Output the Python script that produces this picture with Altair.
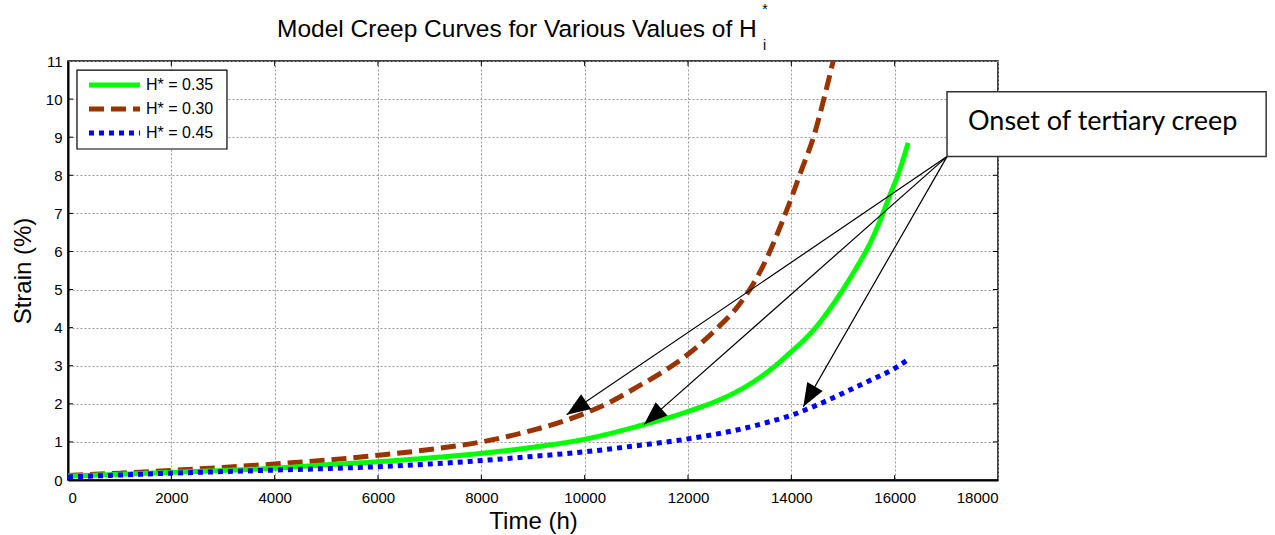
import math
import altair as alt
import pandas as pd

# ---------------- data ----------------
series_names = ["H* = 0.35", "H* = 0.30", "H* = 0.45"]
series_colors = ["#00FF00", "#993300", "#0000FF"]
series_dashes = [[1, 0], [15, 7], [5, 5]]

t_030 = [0, 1000, 2000, 3000, 4000, 5000, 6000, 7000, 8000, 9000, 9600, 10000,
         10500, 11000, 11500, 12000, 12500, 13000, 13250, 13500, 13800, 14000,
         14200, 14430, 14620, 14810]
s_030 = [0.12, 0.18, 0.25, 0.33, 0.42, 0.52, 0.65, 0.80, 1.00, 1.31, 1.55, 1.75,
         2.05, 2.43, 2.83, 3.30, 3.90, 4.62, 5.12, 5.75, 6.70, 7.40,
         8.15, 9.00, 9.95, 11.0]

t_035 = [0, 1000, 2000, 3000, 4000, 5000, 6000, 7000, 8000, 9000, 10000, 11000,
         12000, 12600, 13000, 13600, 14000, 14250, 14500, 14750, 15000, 15250,
         15500, 15700, 15900, 16100, 16260]
s_035 = [0.10, 0.15, 0.20, 0.25, 0.31, 0.40, 0.48, 0.58, 0.70, 0.86, 1.07, 1.40,
         1.80, 2.10, 2.36, 2.90, 3.37, 3.68, 4.05, 4.50, 5.00, 5.55,
         6.15, 6.75, 7.45, 8.15, 8.85]

t_045 = [0, 1000, 2000, 3000, 4000, 5000, 6000, 7000, 8000, 9000, 10000, 11000,
         12000, 13000, 13500, 14000, 14500, 15000, 15500, 16000, 16300]
s_045 = [0.08, 0.13, 0.18, 0.22, 0.26, 0.30, 0.35, 0.42, 0.51, 0.62, 0.74, 0.90,
         1.08, 1.33, 1.50, 1.70, 1.97, 2.28, 2.60, 2.93, 3.20]

x_ticks = list(range(0, 18001, 2000))
y_ticks = list(range(0, 12))

# annotation: box corners (data units) and arrow tips
box_x = [17013, 23190]
box_y = [8.49, 10.19]
box_text = "Onset of tertiary creep"
box_text_pos = [17419, 9.19]
tip_x = [9652, 11148, 14231]
tip_y = [1.71, 1.46, 1.92]

# legend placement (data units)
legend_box_x = [174, 3077]
legend_box_y = [8.69, 10.76]
legend_row_y = [10.37, 9.74, 9.11]
legend_sample_x = [406, 1394]
legend_label_x = 1510

title_main = "Model Creep Curves for Various Values of H"

# ---------------- layout constants ----------------
W, H = 930, 419
X_MAX, Y_MAX = 18000, 11
FONT = "Liberation Sans"

# ---------------- tables ----------------
rows = []
for name, ts, ss in [(series_names[1], t_030, s_030),
                     (series_names[0], t_035, s_035),
                     (series_names[2], t_045, s_045)]:
    for t, s in zip(ts, ss):
        rows.append({"series": name, "t": t, "s": s})
df = pd.DataFrame(rows)

sx = W / X_MAX
sy = H / Y_MAX
arrows = []
for tx, ty in zip(tip_x, tip_y):
    dxp = (tx - box_x[0]) * sx
    dyp = -(ty - box_y[0]) * sy
    ang = math.degrees(math.atan2(dxp, -dyp)) % 360
    arrows.append({"x0": box_x[0], "y0": box_y[0], "x1": tx, "y1": ty, "angle": ang})
arr_df = pd.DataFrame(arrows)

tick_len_x = 5 / sx
tick_len_y = 5 / sy
tick_rows = []
for v in x_ticks[1:-1]:
    tick_rows.append({"x": v, "x2": v, "y": 0, "y2": tick_len_y})
    tick_rows.append({"x": v, "x2": v, "y": Y_MAX - tick_len_y, "y2": Y_MAX})
for v in y_ticks[1:-1]:
    tick_rows.append({"x": 0, "x2": tick_len_x, "y": v, "y2": v})
    tick_rows.append({"x": X_MAX - tick_len_x, "x2": X_MAX, "y": v, "y2": v})
ticks_df = pd.DataFrame(tick_rows)

leg_df = pd.DataFrame([
    {"series": n, "x0": legend_sample_x[0], "x1": legend_sample_x[1],
     "y": yy, "lx": legend_label_x}
    for n, yy in zip(series_names, legend_row_y)
])
leg_box_df = pd.DataFrame([{"x": legend_box_x[0], "x2": legend_box_x[1],
                            "y": legend_box_y[0], "y2": legend_box_y[1]}])

# ---------------- scales / axes ----------------
xs = alt.Scale(domain=[0, X_MAX], nice=False, zero=False)
ys = alt.Scale(domain=[0, Y_MAX], nice=False, zero=False)
x_axis = alt.Axis(values=x_ticks, format="d", title="Time (h)",
                  labelPadding=10, titlePadding=4, grid=True)
y_axis = alt.Axis(values=y_ticks, format="d", title="Strain (%)",
                  labelPadding=6, titlePadding=10, grid=True)
color_scale = alt.Scale(domain=series_names, range=series_colors)
dash_scale = alt.Scale(domain=series_names, range=series_dashes)


def X(field):
    return alt.X(field, scale=xs, axis=x_axis)


def Y(field):
    return alt.Y(field, scale=ys, axis=y_axis)


lines = alt.Chart(df).mark_line(strokeWidth=5, clip=True, strokeCap="butt",
                                interpolate="monotone").encode(
    x=X("t:Q"),
    y=Y("s:Q"),
    color=alt.Color("series:N", scale=color_scale, legend=None),
    strokeDash=alt.StrokeDash("series:N", scale=dash_scale, legend=None),
    order=alt.Order("t:Q"),
)

inner_ticks = alt.Chart(ticks_df).mark_rule(color="black", strokeWidth=1).encode(
    x=X("x:Q"), x2="x2:Q", y=Y("y:Q"), y2="y2:Q",
)

arrow_lines = alt.Chart(arr_df).mark_rule(color="black", strokeWidth=1.2).encode(
    x=X("x0:Q"), x2="x1:Q", y=Y("y0:Q"), y2="y1:Q",
)

arrow_heads = alt.Chart(arr_df).mark_point(
    shape="M0,0L-0.38,1L0.38,1Z", size=2200, filled=True, color="black",
    opacity=1, strokeWidth=0,
).encode(
    x=X("x1:Q"), y=Y("y1:Q"),
    angle=alt.Angle("angle:Q", scale=None),
)

box_df = pd.DataFrame([{"x": box_x[0], "x2": box_x[1], "y": box_y[0], "y2": box_y[1],
                        "tx": box_text_pos[0], "ty": box_text_pos[1], "label": box_text}])
box = alt.Chart(box_df).mark_rect(fill="white", stroke="#333333", strokeWidth=1.5,
                                  clip=False).encode(
    x=X("x:Q"), x2="x2:Q", y=Y("y:Q"), y2="y2:Q",
)
box_label = alt.Chart(box_df).mark_text(
    font="Lato", fontSize=27, align="left", baseline="alphabetic", color="black",
    clip=False,
).encode(x=X("tx:Q"), y=Y("ty:Q"), text="label:N")

legend_box = alt.Chart(leg_box_df).mark_rect(
    fill="white", stroke="black", strokeWidth=1.2
).encode(x=X("x:Q"), x2="x2:Q", y=Y("y:Q"), y2="y2:Q")
legend_lines = alt.Chart(leg_df).mark_rule(strokeWidth=5, strokeCap="butt").encode(
    x=X("x0:Q"), x2="x1:Q", y=Y("y:Q"),
    color=alt.Color("series:N", scale=color_scale, legend=None),
    strokeDash=alt.StrokeDash("series:N", scale=dash_scale, legend=None),
)
legend_labels = alt.Chart(leg_df).mark_text(
    font=FONT, fontSize=16, align="left", baseline="middle", color="black"
).encode(x=X("lx:Q"), y=Y("y:Q"), text="series:N")

one = pd.DataFrame({"k": [0]})
title_txt = alt.Chart(one).mark_text(
    font=FONT, fontSize=24.5, align="left", baseline="alphabetic", color="black"
).encode(x=alt.value(209), y=alt.value(-24), text=alt.value(title_main))
title_star = alt.Chart(one).mark_text(
    font=FONT, fontSize=14, align="center", baseline="alphabetic", color="black"
).encode(x=alt.value(697), y=alt.value(-47.5), text=alt.value("*"))
title_sub = alt.Chart(one).mark_text(
    font=FONT, fontSize=14, align="center", baseline="alphabetic", color="black"
).encode(x=alt.value(696.5), y=alt.value(-11), text=alt.value("i"))

chart = alt.layer(
    lines, inner_ticks, arrow_lines, arrow_heads, box, box_label,
    legend_box, legend_lines, legend_labels,
    title_txt, title_star, title_sub,
).properties(
    width=W, height=H,
    autosize=alt.AutoSizeParams(type="none"),
    padding={"left": 68, "top": 61, "right": 277, "bottom": 55},
    background="white",
).configure_view(
    stroke="black", strokeWidth=1.5
).configure_axis(
    labelFont=FONT, labelFontSize=15, labelColor="black",
    titleFont=FONT, titleFontSize=24, titleFontWeight="normal", titleColor="black",
    domainColor="black", domainWidth=2, ticks=False, tickSize=0,
    gridColor="#9a9a9a", gridDash=[2, 2], gridWidth=1, labelOverlap=False,
)

chart.save("out.html", embed_options={"renderer": "svg", "actions": False})
